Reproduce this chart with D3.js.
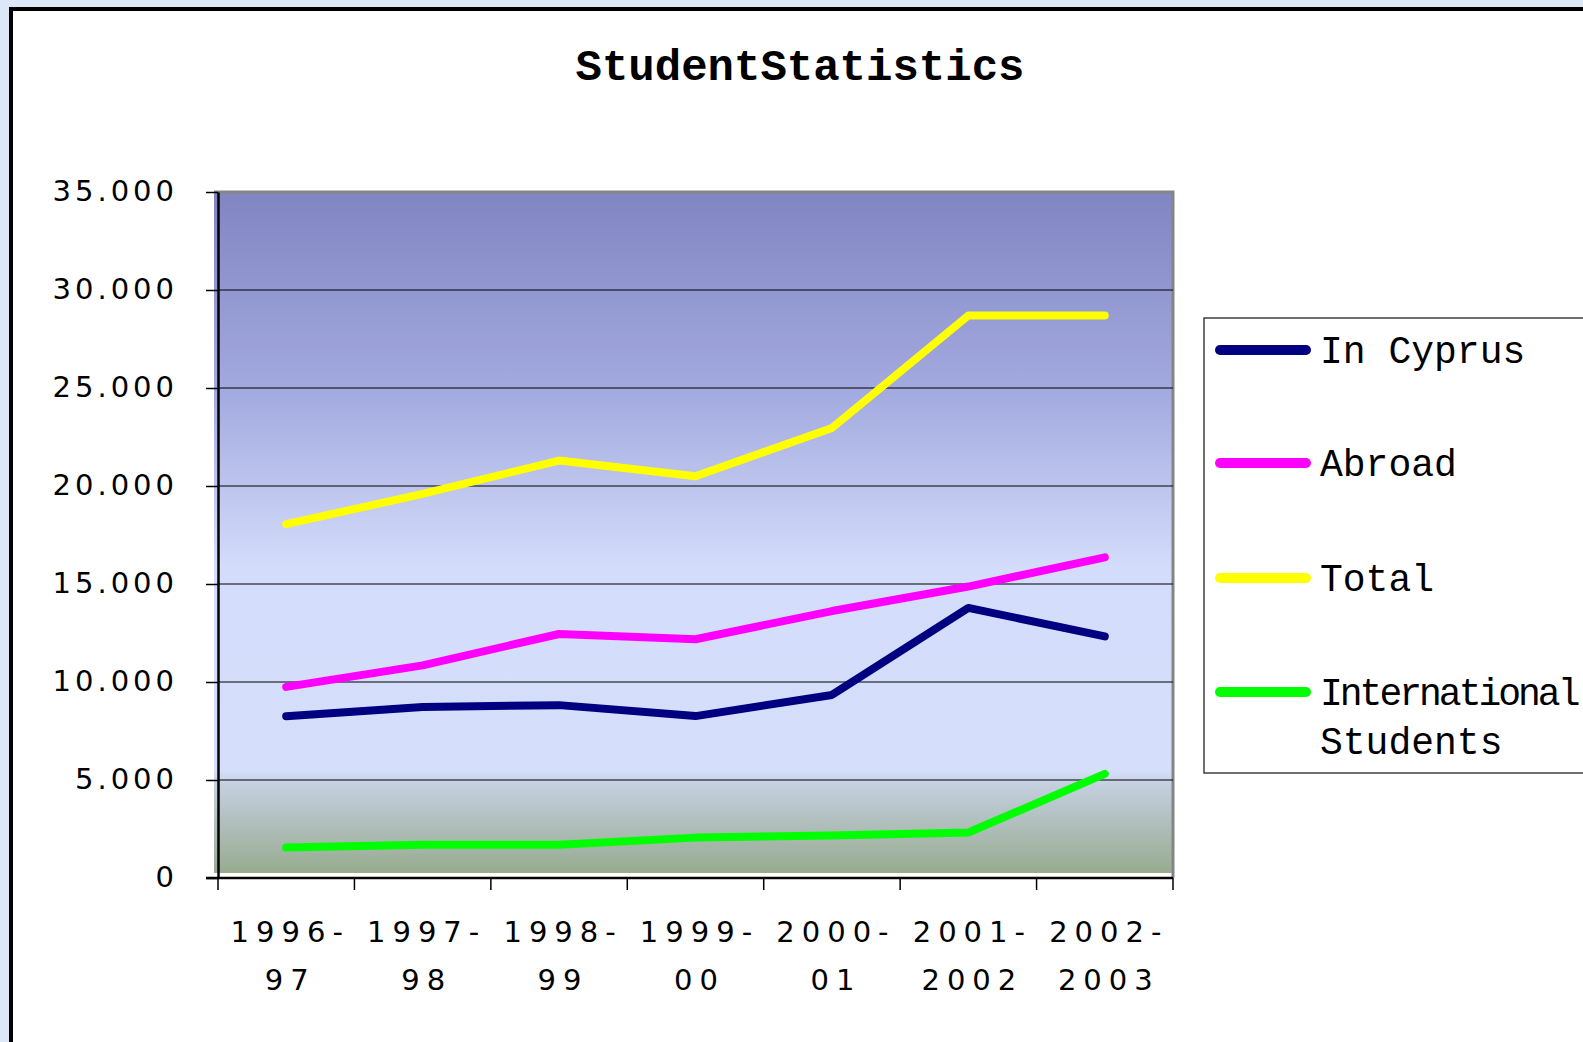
<!DOCTYPE html>
<html>
<head>
<meta charset="utf-8">
<script src="https://cdn.jsdelivr.net/npm/d3@7"></script>
<style>
  body { margin: 0; background: #dce8f8; overflow: hidden; }
  .tick-label { font-family: "DejaVu Sans", sans-serif; font-size: 29px; fill: #000; letter-spacing: 7px; }
  .ytick-label { letter-spacing: 4px; }
  .legend-text { font-family: "Liberation Mono", "Courier New", monospace; font-size: 38px; fill: #000; }
</style>
</head>
<body>
<div id="chart"></div>
<script>
// Data
const years = ["1996-97", "1997-98", "1998-99", "1999-00", "2000-01", "2001-2002", "2002-2003"];
const inCyprus = [8250, 8720, 8820, 8260, 9340, 13780, 12330];
const abroad = [9750, 10850, 12450, 12180, 13620, 14870, 16360];
const total = [18050, 19600, 21300, 20500, 22960, 28700, 28700];
const international = [1550, 1700, 1700, 2060, 2170, 2320, 5310];
const seriesNames = ["In Cyprus", "Abroad", "Total", "International Students"];
const legendLines = [["In Cyprus"], ["Abroad"], ["Total"], ["International", "Students"]];
const seriesColors = ["#000080", "#ff00ff", "#ffff00", "#00ff00"];
const yTicks = [0, 5000, 10000, 15000, 20000, 25000, 30000, 35000];

function setupChart() {
    const W = 1583, H = 1042;
    const plot = {left: 218, top: 192, right: 1173, bottom: 878};

    const svg = d3.select("#chart").append("svg")
        .attr("width", W)
        .attr("height", H);

    // White page with black frame
    svg.append("rect")
        .attr("x", 11).attr("y", 9)
        .attr("width", 1650).attr("height", 1100)
        .attr("fill", "#fff")
        .attr("stroke", "#000")
        .attr("stroke-width", 4);

    // Title
    svg.append("text")
        .attr("x", 800).attr("y", 80)
        .attr("text-anchor", "middle")
        .style("font-family", "'Liberation Mono', 'Courier New', monospace")
        .style("font-weight", "bold")
        .style("font-size", "44px")
        .text("StudentStatistics");

    // Scales
    const x = d3.scaleBand().domain(years).range([plot.left, plot.right]).padding(0);
    const y = d3.scaleLinear().domain([0, 35000]).range([plot.bottom, plot.top]);

    // Plot area gradient
    const defs = svg.append("defs");
    const grad = defs.append("linearGradient")
        .attr("id", "plotBg")
        .attr("x1", 0).attr("y1", 0).attr("x2", 0).attr("y2", 1);
    [[0, "#8185c2"], [0.3, "#a4abe0"], [0.55, "#d3dcfa"], [0.85, "#d5dffb"],
     [0.87, "#c4cfdf"], [1, "#97ab8f"]].forEach(s => {
        grad.append("stop").attr("offset", s[0]).attr("stop-color", s[1]);
    });

    svg.append("rect")
        .attr("x", plot.left - 4).attr("y", plot.top)
        .attr("width", plot.right - plot.left + 4)
        .attr("height", plot.bottom - plot.top - 5)
        .attr("fill", "url(#plotBg)");

    // Gray border at top and right of plot area
    svg.append("path")
        .attr("d", `M${plot.left - 4},${plot.top} H${plot.right} V${plot.bottom}`)
        .attr("fill", "none")
        .attr("stroke", "#858585")
        .attr("stroke-width", 3);

    // Gridlines
    svg.append("g")
        .selectAll("line")
        .data(yTicks.filter(d => d > 0 && d < 35000))
        .join("line")
        .attr("x1", plot.left).attr("x2", plot.right)
        .attr("y1", d => y(d)).attr("y2", d => y(d))
        .attr("stroke", "#000")
        .attr("stroke-width", 1);

    // Y axis
    const yAxis = svg.append("g")
        .attr("transform", `translate(${plot.left},0)`)
        .call(d3.axisLeft(y).tickValues(yTicks).tickSize(12).tickSizeOuter(0)
            .tickFormat(d => d3.format(",")(d).replace(/,/g, ".")));
    yAxis.attr("font-size", null).attr("font-family", null);
    yAxis.select(".domain").attr("stroke", "#000").attr("stroke-width", 2.5);
    yAxis.selectAll(".tick line").attr("stroke", "#000").attr("stroke-width", 1.5);
    yAxis.selectAll(".tick text")
        .attr("class", "tick-label ytick-label")
        .attr("x", -40)
        .attr("dy", "0.3em");

    // X axis line and boundary ticks
    const xAxis = svg.append("g");
    xAxis.append("line")
        .attr("x1", plot.left - 12).attr("x2", plot.right)
        .attr("y1", plot.bottom).attr("y2", plot.bottom)
        .attr("stroke", "#000").attr("stroke-width", 2.5);
    const bounds = years.map(d => x(d)).concat([x.range()[1]]);
    xAxis.selectAll(".xtick")
        .data(bounds)
        .join("line")
        .attr("class", "xtick")
        .attr("x1", d => d).attr("x2", d => d)
        .attr("y1", plot.bottom).attr("y2", plot.bottom + 12)
        .attr("stroke", "#000").attr("stroke-width", 1.5);

    // X labels on two lines
    const xl = xAxis.selectAll(".xlabel")
        .data(years)
        .join("text")
        .attr("class", "tick-label")
        .attr("text-anchor", "middle")
        .attr("transform", d => `translate(${x(d) + x.bandwidth() / 2 + 4},0)`);
    xl.append("tspan")
        .attr("x", 0).attr("y", 942)
        .text(d => d.slice(0, d.indexOf("-") + 1));
    xl.append("tspan")
        .attr("x", 0).attr("y", 990)
        .text(d => d.slice(d.indexOf("-") + 1));

    // Lines
    const allSeries = [inCyprus, abroad, total, international];
    const line = d3.line()
        .x((d, i) => x(years[i]) + x.bandwidth() / 2)
        .y(d => y(d));
    svg.append("g")
        .selectAll("path")
        .data(allSeries)
        .join("path")
        .attr("d", d => line(d))
        .attr("fill", "none")
        .attr("stroke", (d, i) => seriesColors[i])
        .attr("stroke-width", 8)
        .attr("stroke-linecap", "round")
        .attr("stroke-linejoin", "round");

    // Legend
    const legend = svg.append("g");
    legend.append("rect")
        .attr("x", 1204).attr("y", 318)
        .attr("width", 500).attr("height", 455)
        .attr("fill", "#fff")
        .attr("stroke", "#404040")
        .attr("stroke-width", 1.5);
    const rowY = [350, 463, 578, 692];
    const items = legend.selectAll(".item")
        .data(seriesNames)
        .join("g")
        .attr("transform", (d, i) => `translate(0,${rowY[i]})`);
    items.append("line")
        .attr("x1", 1220).attr("x2", 1306)
        .attr("stroke", (d, i) => seriesColors[i])
        .attr("stroke-width", 10)
        .attr("stroke-linecap", "round");
    items.append("text")
        .attr("class", "legend-text")
        .attr("x", 1320).attr("y", 13)
        .each(function(d, i) {
            const t = d3.select(this);
            legendLines[i].forEach((w, k) => {
                t.append("tspan")
                    .attr("x", 1320).attr("y", 13 + k * 49)
                    .style("letter-spacing", w.length > 10 ? "-3px" : null)
                    .text(w);
            });
        });
}

setupChart();
</script>
</body>
</html>
